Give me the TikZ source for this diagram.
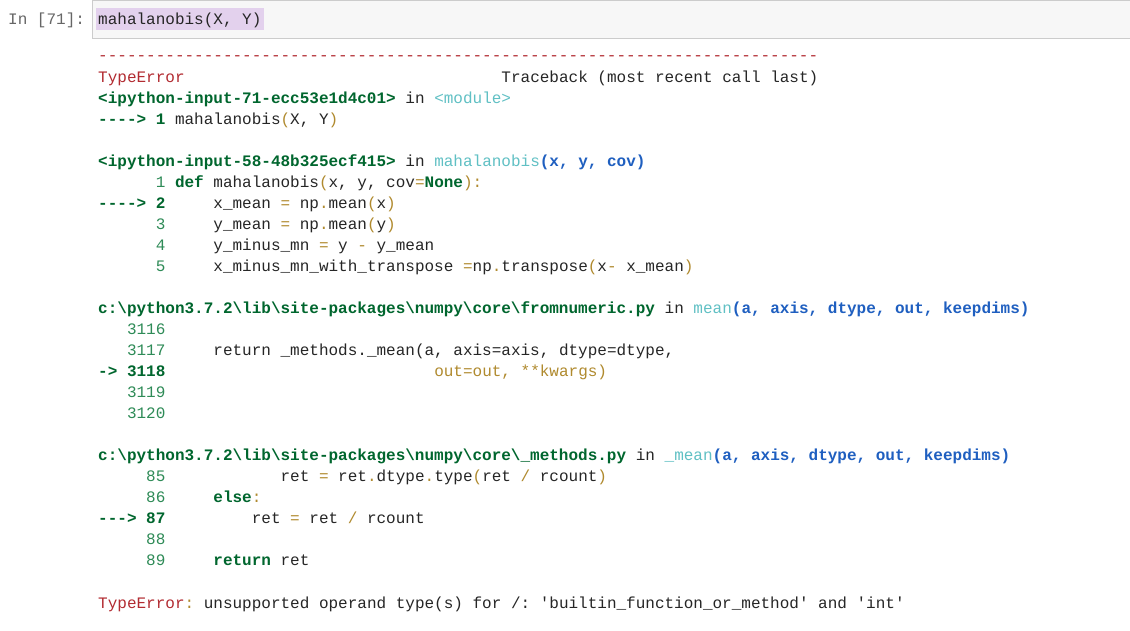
\documentclass[tikz,border=0pt]{standalone}
\usepackage{fontspec}
\setmonofont{Liberation Mono}
\definecolor{cgreen}{HTML}{00662E}
\definecolor{clno}{HTML}{2E8B57}
\definecolor{cgold}{HTML}{B08A2E}
\definecolor{ccyan}{HTML}{60C0C4}
\definecolor{cblue}{HTML}{1F5FC0}
\definecolor{cred}{HTML}{B22B31}
\newcommand{\cG}[1]{\textcolor{cgreen}{\bfseries #1}}
\newcommand{\cg}[1]{\textcolor{clno}{#1}}
\newcommand{\cY}[1]{\textcolor{cgold}{#1}}
\newcommand{\cC}[1]{\textcolor{ccyan}{#1}}
\newcommand{\cB}[1]{\textcolor{cblue}{\bfseries #1}}
\newcommand{\cR}[1]{\textcolor{cred}{#1}}
\tikzset{ln/.style={anchor=base west,inner sep=0pt,font=\ttfamily\fontsize{16}{16}\selectfont,text=black!85}}
\begin{document}
\begin{tikzpicture}[x=1pt,y=-1pt]
\useasboundingbox (0,0) rectangle (1130,630);
\fill[white] (0,0) rectangle (1130,630);
\draw[fill=black!3,draw=black!20] (92,0.5) rectangle (1131,38);
\fill[blue!60!red!18] (96,8) rectangle (264,30);
\node[ln,text=black!60] (in) at (8,24) {In~[71]:};
\node[ln] (cell) at (98,24) {mahalanobis(X,~Y)};
\node[ln] (l0) at (98,60) {\cR{---------------------------------------------------------------------------}};
\node[ln] (l1) at (98,82) {\cR{TypeError}~~~~~~~~~~~~~~~~~~~~~~~~~~~~~~~~~Traceback~(most~recent~call~last)};
\node[ln] (l2) at (98,103) {\cG{<ipython-input-71-ecc53e1d4c01>}~in~\cC{<module>}};
\node[ln] (l3) at (98,124) {\cG{---->~1}~mahalanobis\cY{(}X,~Y\cY{)}};
\node[ln] (l4) at (98,166) {\cG{<ipython-input-58-48b325ecf415>}~in~\cC{mahalanobis}\cB{(x,~y,~cov)}};
\node[ln] (l5) at (98,187) {\cg{~~~~~~1}~\cG{def}~mahalanobis\cY{(}x,~y,~cov\cY{=}\cG{None}\cY{):}};
\node[ln] (l6) at (98,208) {\cG{---->~2}~~~~~x\_mean~\cY{=}~np\cY{.}mean\cY{(}x\cY{)}};
\node[ln] (l7) at (98,229) {\cg{~~~~~~3}~~~~~y\_mean~\cY{=}~np\cY{.}mean\cY{(}y\cY{)}};
\node[ln] (l8) at (98,250) {\cg{~~~~~~4}~~~~~y\_minus\_mn~\cY{=}~y~\cY{-}~y\_mean};
\node[ln] (l9) at (98,271) {\cg{~~~~~~5}~~~~~x\_minus\_mn\_with\_transpose~\cY{=}np\cY{.}transpose\cY{(}x\cY{-}~x\_mean\cY{)}};
\node[ln] (l10) at (98,313) {\cG{c:\textbackslash python3.7.2\textbackslash lib\textbackslash site-packages\textbackslash numpy\textbackslash core\textbackslash fromnumeric.py}~in~\cC{mean}\cB{(a,~axis,~dtype,~out,~keepdims)}};
\node[ln] (l11) at (98,334) {\cg{~~~3116}};
\node[ln] (l12) at (98,355) {\cg{~~~3117}~~~~~return~\_methods.\_mean(a,~axis=axis,~dtype=dtype,};
\node[ln] (l13) at (98,376) {\cG{->~3118}~~~~~~~~~~~~~~~~~~~~~~~~~~~~\cY{out=out,~**kwargs)}};
\node[ln] (l14) at (98,397) {\cg{~~~3119}};
\node[ln] (l15) at (98,418) {\cg{~~~3120}};
\node[ln] (l16) at (98,460) {\cG{c:\textbackslash python3.7.2\textbackslash lib\textbackslash site-packages\textbackslash numpy\textbackslash core\textbackslash \_methods.py}~in~\cC{\_mean}\cB{(a,~axis,~dtype,~out,~keepdims)}};
\node[ln] (l17) at (98,481) {\cg{~~~~~85}~~~~~~~~~~~~ret~\cY{=}~ret\cY{.}dtype\cY{.}type\cY{(}ret~\cY{/}~rcount\cY{)}};
\node[ln] (l18) at (98,502) {\cg{~~~~~86}~~~~~\cG{else}\cY{:}};
\node[ln] (l19) at (98,523) {\cG{--->~87}~~~~~~~~~ret~\cY{=}~ret~\cY{/}~rcount};
\node[ln] (l20) at (98,544) {\cg{~~~~~88}};
\node[ln] (l21) at (98,565) {\cg{~~~~~89}~~~~~\cG{return}~ret};
\node[ln] (l22) at (98,608) {\cR{TypeError}\cY{:}~unsupported~operand~type(s)~for~/:~'builtin\_function\_or\_method'~and~'int'};
\end{tikzpicture}
\end{document}
